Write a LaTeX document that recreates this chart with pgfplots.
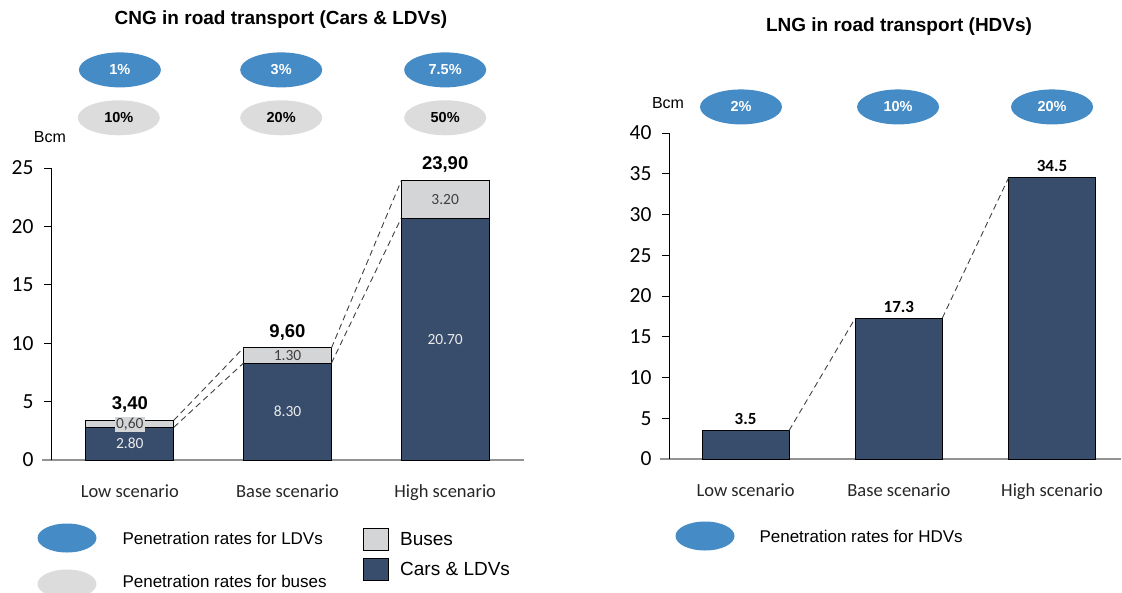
\documentclass[border=0pt]{standalone}
\usepackage{fontspec}
\setmainfont{Liberation Sans}
\newfontfamily\carlito{Carlito}
\usepackage{pgfplots}
\pgfplotsset{compat=1.18}
\usetikzlibrary{shapes.geometric}

\definecolor{navy}{HTML}{384D6C}
\definecolor{busgrey}{HTML}{D4D5D7}
\definecolor{penblue}{HTML}{458BC6}
\definecolor{pengrey}{HTML}{DCDCDC}
\definecolor{dashc}{HTML}{404040}

\pgfplotsset{
  scen/.style={
    scale only axis,
    axis lines=left,
    axis line style={-},
    y axis line style={draw=black, line width=0.8pt},
    x axis line style={draw=gray!85, line width=1.2pt, shorten <=-9pt},
    xmin=-0.5, ymin=0,
    enlargelimits=false,
    xtick={0,1,2},
    xticklabels={Low scenario,Base scenario,High scenario},
    x tick style={draw=none},
    y tick style={black, line width=0.8pt},
    tick align=outside,
    major tick length=7pt,
    /pgf/number format/assume math mode=true,
    y tick label style={font=\carlito\fontsize{21.5}{21.5}\selectfont, xshift=-7pt},
    x tick label style={font=\carlito\fontsize{18.5}{18.5}\selectfont, text=black!85, yshift=-14pt},
    clip=false,
  },
}
\tikzset{
  penell/.style={ellipse, minimum width=82pt, minimum height=35pt, inner sep=0pt,
    font=\bfseries\fontsize{14.5}{14.5}\selectfont},
  seglab/.style={font=\carlito\fontsize{15.5}{15.5}\selectfont},
  totlab/.style={font=\bfseries\fontsize{18.5}{18.5}\selectfont},
  conn/.style={dashc, dash pattern=on 6pt off 4pt, line width=0.9pt},
}

\begin{document}
\begin{tikzpicture}
\useasboundingbox (0,0) rectangle (1122pt,-592pt);

% ---------- left: CNG ----------
\begin{axis}[scen,
  at={(51pt,-460pt)}, anchor=south west,
  width=473pt, height=292pt,
  xmax=2.5, ymax=25, ytick={0,5,...,25},
  ybar stacked, bar width=0.558,
  legend style={at={(axis description cs:0.66,-0.232)}, anchor=north west,
    draw=none, fill=none, inner sep=0pt,
    font=\fontsize{19}{19}\selectfont, row sep=7pt,
    /tikz/every odd column/.append style={column sep=9pt}},
  legend image code/.code={\draw[#1] (0pt,-11pt) rectangle (25pt,11pt);},
  legend cell align=left,
  reverse legend,
]
\addplot[fill=navy, draw=black, line width=0.8pt] coordinates {(0,2.8) (1,8.3) (2,20.7)};
\addlegendentry{Cars \& LDVs}
\addplot[fill=busgrey, draw=black, line width=0.8pt] coordinates {(0,0.6) (1,1.3) (2,3.2)};
\addlegendentry{Buses}

\node[penell, fill=penblue, text=white] at (axis cs:-0.063,33.4) {1\%};
\node[penell, fill=penblue, text=white] at (axis cs:0.96,33.4) {3\%};
\node[penell, fill=penblue, text=white] at (axis cs:2.0,33.4) {7.5\%};
\node[penell, fill=pengrey, text=black] at (axis cs:-0.07,29.3) {10\%};
\node[penell, fill=pengrey, text=black] at (axis cs:0.96,29.3) {20\%};
\node[penell, fill=pengrey, text=black] at (axis cs:2.0,29.3) {50\%};
\end{axis}

% connectors and value labels for the left chart, drawn over the bars
\begin{axis}[
  scale only axis, hide axis, clip=false,
  at={(51pt,-460pt)}, anchor=south west,
  width=473pt, height=292pt,
  xmin=-0.5, xmax=2.5, ymin=0, ymax=25,
]
\addplot[conn] coordinates {(0.279,3.4) (0.721,9.6)};
\addplot[conn] coordinates {(0.279,2.8) (0.721,8.3)};
\addplot[conn] coordinates {(1.279,9.6) (1.721,23.9)};
\addplot[conn] coordinates {(1.279,8.3) (1.721,20.7)};

\node[totlab] at (axis cs:0,4.75) {3,40};
\node[totlab] at (axis cs:1,10.95) {9,60};
\node[totlab] at (axis cs:2,25.3) {23,90};
\node[seglab, fill=busgrey, inner sep=1pt, text=black!75] at (axis cs:0,3.05) {0,60};
\node[seglab, text=white!92!black] at (axis cs:0,1.45) {2.80};
\node[seglab, text=black!75] at (axis cs:1,8.95) {1.30};
\node[seglab, text=white!92!black] at (axis cs:1,4.15) {8.30};
\node[seglab, text=black!75] at (axis cs:2,22.3) {3.20};
\node[seglab, text=white!92!black] at (axis cs:2,10.35) {20.70};
\end{axis}

% ---------- right: LNG ----------
\begin{axis}[scen,
  at={(669pt,-459pt)}, anchor=south west,
  width=452pt, height=326pt,
  xmax=2.45, ymax=40, ytick={0,5,...,40},
]
\addplot[ybar, bar width=0.568, bar shift=0pt, fill=navy, draw=black, line width=0.8pt,
  nodes near coords={\pgfmathprintnumber[fixed,precision=1,assume math mode=true]{\pgfplotspointmeta}},
  every node near coord/.append style={font=\carlito\bfseries\fontsize{17}{17}\selectfont, text=black, yshift=2pt}]
  coordinates {(0,3.5) (1,17.3) (2,34.5)};
\addplot[conn] coordinates {(0.284,3.5) (0.716,17.3)};
\addplot[conn] coordinates {(1.284,17.3) (1.716,34.5)};

\node[penell, fill=penblue, text=white] at (axis cs:-0.03,43.2) {2\%};
\node[penell, fill=penblue, text=white] at (axis cs:0.995,43.2) {10\%};
\node[penell, fill=penblue, text=white] at (axis cs:2.0,43.2) {20\%};
\end{axis}

% titles, units and the rate legends
\node[font=\bfseries\fontsize{19}{19}\selectfont] at (281pt,-20pt) {CNG in road transport (Cars \& LDVs)};
\node[font=\bfseries\fontsize{19}{19}\selectfont] at (899pt,-27pt) {LNG in road transport (HDVs)};
\node[font=\fontsize{16}{16}\selectfont] at (50pt,-137pt) {Bcm};
\node[font=\fontsize{16}{16}\selectfont] at (668pt,-103pt) {Bcm};

\node[ellipse, fill=penblue, minimum width=59pt, minimum height=29pt, inner sep=0pt] at (67pt,-538pt) {};
\node[anchor=west, font=\fontsize{17}{17}\selectfont] at (119pt,-538pt) {Penetration rates for LDVs};
\node[ellipse, fill=pengrey, minimum width=59pt, minimum height=29pt, inner sep=0pt] at (67pt,-584pt) {};
\node[anchor=west, font=\fontsize{17}{17}\selectfont] at (119pt,-581pt) {Penetration rates for buses};
\node[ellipse, fill=penblue, minimum width=59pt, minimum height=29pt, inner sep=0pt] at (705pt,-536pt) {};
\node[anchor=west, font=\fontsize{17}{17}\selectfont] at (756pt,-536pt) {Penetration rates for HDVs};
\end{tikzpicture}
\end{document}
